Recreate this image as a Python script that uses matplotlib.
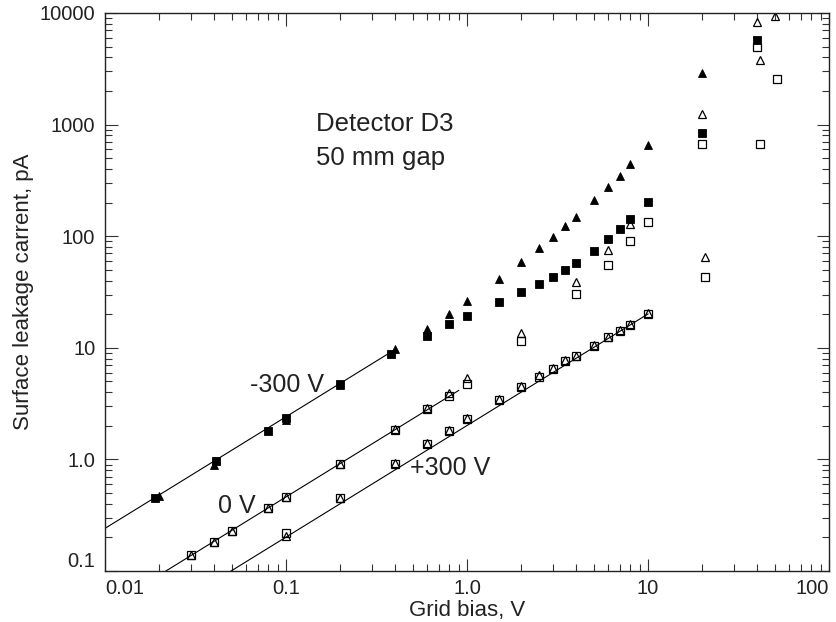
import numpy as np
import matplotlib.pyplot as plt
from matplotlib.ticker import FixedLocator, LogLocator, NullFormatter

plt.rcParams['font.family'] = ['Liberation Sans', 'DejaVu Sans']

#---------------- -300 V (filled)
sq_neg_x = [0.019, 0.041, 0.08, 0.1, 0.2, 0.38, 0.6, 0.8, 1.0, 1.5, 2.0, 2.5, 3.0, 3.5, 4.0,
            5.0, 6.0, 7.0, 8.0, 10, 20, 40]
sq_neg_y = [0.448, 0.966, 1.80, 2.36, 4.75, 8.84, 12.8, 16.3, 19.4, 25.7, 31.3, 37.0, 43.0, 49.8, 57.0,
            74.1, 93.6, 116, 143, 201, 842, 5780]
tr_neg_x = [0.02, 0.04, 0.1, 0.2, 0.4, 0.6, 0.8, 1.0, 1.5, 2.0, 2.5, 3.0, 3.5, 4.0,
            5.0, 6.0, 7.0, 8.0, 10, 20]
tr_neg_y = [0.469, 0.889, 2.25, 4.6, 9.73, 14.8, 20.2, 26.0, 41.6, 59.0, 78.4, 99, 124, 150,
            209, 278, 349, 444, 662, 2905]

#---------------- 0 V (open)
sq_zero_x = [0.03, 0.04, 0.05, 0.08, 0.1, 0.2, 0.4, 0.6, 0.8, 1.0, 2.0, 4.0, 6.0, 8.0, 10, 20, 40]
sq_zero_y = [0.139, 0.183, 0.23, 0.37, 0.457, 0.91, 1.84, 2.82, 3.73, 4.75, 11.6, 30.3, 55.5, 91.2,
             133, 671, 4935]
tr_zero_x = [0.03, 0.04, 0.05, 0.08, 0.1, 0.2, 0.4, 0.6, 0.8, 1.0, 2.0, 4.0, 6.0, 8.0, 20, 40]
tr_zero_y = [0.139, 0.183, 0.23, 0.37, 0.46, 0.91, 1.88, 2.9, 3.95, 5.35, 13.6, 38.5, 74.6, 129,
             1248, 8270]

#---------------- +300 V (open)
sq_pos_x = [0.1, 0.2, 0.4, 0.6, 0.8, 1.0, 1.5, 2.0, 2.5, 3.0, 3.5, 4.0, 5.0, 6.0, 7.0, 8.0, 10,
            20.6, 41.6, 51.8]
sq_pos_y = [0.22, 0.449, 0.91, 1.37, 1.81, 2.29, 3.42, 4.44, 5.53, 6.52, 7.54, 8.36, 10.3, 12.4,
            14.2, 16.1, 19.9, 42.7, 676, 2570]
tr_pos_x = [0.1, 0.2, 0.4, 0.6, 0.8, 1.0, 1.5, 2.0, 2.5, 3.0, 3.5, 4.0, 5.0, 6.0, 7.0, 8.0, 10,
            20.6, 41.6, 50]
tr_pos_y = [0.206, 0.455, 0.93, 1.40, 1.85, 2.33, 3.5, 4.55, 5.65, 6.65, 7.7, 8.5, 10.5, 12.6,
            14.5, 16.4, 20.5, 64.6, 3830, 9360]

#---------------- straight-line fits (end points)
fit_neg_x = [0.01, 0.4]
fit_neg_y = [0.241, 9.64]
fit_zero_x = [0.0217, 0.9]
fit_zero_y = [0.1, 4.15]
fit_pos_x = [0.0497, 10]
fit_pos_y = [0.1, 20.1]

xticks = [0.01, 0.1, 1, 10, 100]
xlabels = ['0.01', '0.1', '1.0', '10', '100']
yticks = [0.1, 1, 10, 100, 1000, 10000]
ylabels = ['0.1', '1.0', '10', '100', '1000', '10000']

#---------------
fig = plt.figure(figsize=(8.36, 6.22), dpi=100)
ax = fig.add_axes([105/836, 51/622, 724/836, 558/622])
ax.set_xscale('log')
ax.set_yscale('log')

for fx, fy in [(fit_neg_x, fit_neg_y), (fit_zero_x, fit_zero_y), (fit_pos_x, fit_pos_y)]:
	ax.plot(fx, fy, color='k', lw=0.8)

ax.plot(sq_neg_x, sq_neg_y, 's', color='k', ms=5.5, mew=0.6)
ax.plot(tr_neg_x, tr_neg_y, '^', color='k', ms=6, mew=0.6)
for sx, sy, tx, ty in [(sq_zero_x, sq_zero_y, tr_zero_x, tr_zero_y),
                       (sq_pos_x, sq_pos_y, tr_pos_x, tr_pos_y)]:
	ax.plot(sx, sy, 's', mfc='none', mec='k', ms=5.5, mew=0.9)
	ax.plot(tx, ty, '^', mfc='none', mec='k', ms=5.5, mew=0.9)

ax.set_xlim(0.01, 100)
ax.set_ylim(0.1, 10000)

ax.xaxis.set_major_locator(FixedLocator(xticks))
ax.set_xticklabels(xlabels)
ax.yaxis.set_major_locator(FixedLocator(yticks))
ax.set_yticklabels(ylabels)
ax.xaxis.set_minor_locator(LogLocator(base=10, subs=np.arange(2, 10), numticks=20))
ax.yaxis.set_minor_locator(LogLocator(base=10, subs=np.arange(2, 10), numticks=20))
ax.xaxis.set_minor_formatter(NullFormatter())
ax.yaxis.set_minor_formatter(NullFormatter())

ax.tick_params(which='both', direction='in', top=True, right=True, color='#333333',
               labelsize=14.5, labelcolor='#222222')
ax.tick_params(which='major', length=9, width=0.8)
ax.tick_params(which='minor', length=5, width=0.8)
ax.tick_params(axis='x', pad=6)
ax.tick_params(axis='y', pad=7)

xl = ax.get_xticklabels()
xl[0].set_ha('left')
xl[-1].set_ha('right')
ax.get_yticklabels()[0].set_va('bottom')

for s in ax.spines.values():
	s.set_linewidth(1.0)
	s.set_color('#222222')

ax.set_xlabel('Grid bias, V', fontsize=16, color='#222222', labelpad=1)
ax.set_ylabel('Surface leakage carrent, pA', fontsize=16, color='#222222', labelpad=4)

ax.text(0.063, 4.65, '-300 V', fontsize=18, va='center', color='#222222')
ax.text(0.042, 0.383, '0 V', fontsize=18, va='center', color='#222222')
ax.text(0.484, 0.83, '+300 V', fontsize=18, va='center', color='#222222')
ax.text(0.147, 871, 'Detector D3', fontsize=18.5, va='baseline', color='#222222')
ax.text(0.147, 437, '50 mm gap', fontsize=18.5, va='baseline', color='#222222')

fig.savefig('out.png', dpi=100)
